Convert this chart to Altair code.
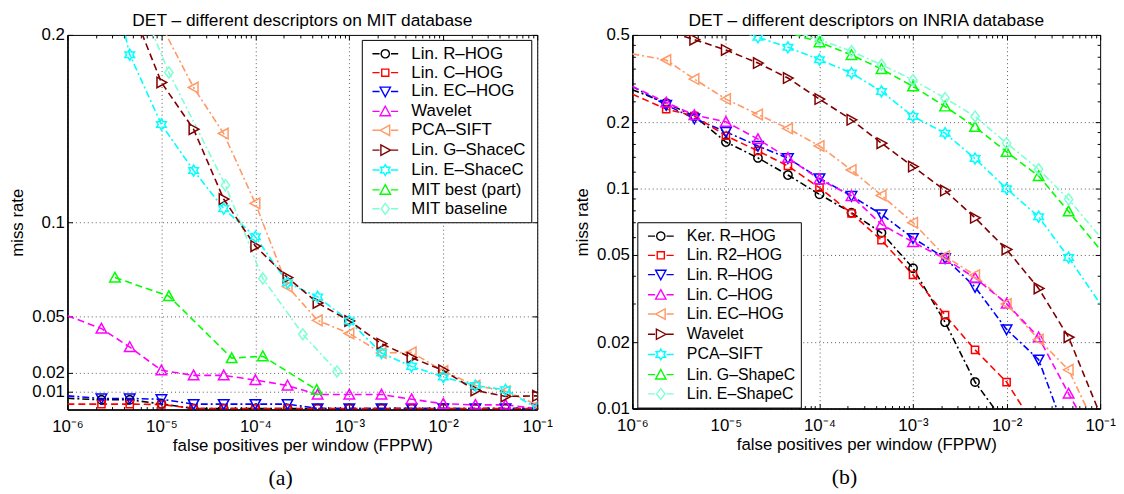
import math
import altair as alt
import pandas as pd

FONT = "Liberation Sans"

# ---------------- axis ticks ----------------
X_TICKS = [1e-6, 1e-5, 1e-4, 1e-3, 1e-2, 1e-1]
X_TICK_LABELS = ["10⁻⁶", "10⁻⁵", "10⁻⁴", "10⁻³", "10⁻²", "10⁻¹"]
X_MINOR = [m * 10.0 ** e for e in range(-6, -1) for m in range(2, 10)]
A_Y_TICKS = [0.01, 0.02, 0.05, 0.1, 0.2]
B_Y_TICKS = [0.01, 0.02, 0.05, 0.1, 0.2, 0.5]
B_Y_MINOR = [0.03, 0.04, 0.06, 0.07, 0.08, 0.09, 0.12, 0.14, 0.16, 0.18, 0.25, 0.3, 0.35, 0.4, 0.45]

# ---------------- panel (a): MIT ----------------
A_NAMES = ["Lin. R–HOG", "Lin. C–HOG", "Lin. EC–HOG", "Wavelet", "PCA–SIFT",
           "Lin. G–ShaceC", "Lin. E–ShaceC", "MIT best (part)", "MIT baseline"]
A_COLORS = ["#000000", "#ff0000", "#0000ff", "#ff00ff", "#ff9966",
            "#800000", "#00ffff", "#00ff00", "#7fffd4"]
A_DASHES = ["dashdot", "dash", "dashdot", "dash", "dashdot", "dash", "dashdot", "dash", "dashdot"]
A_SHAPES = ["circle", "square", "triangle-down", "triangle-up", "triangle-left",
            "triangle-right", "hexagram", "triangle-up", "diamond"]

FPPW = [2.3e-6, 4.6e-6, 1e-5, 2.2e-5, 4.6e-5, 1e-4, 2.2e-4, 4.6e-4, 1e-3,
        2.2e-3, 4.6e-3, 1e-2, 2.2e-2, 4.6e-2, 1e-1]

A_RHOG = [0.0057, 0.0057, 0.0035, 0.0011, 0.0011, 0.0011, 0.0011, 0.0011,
          0.0011, 0.0011, 0.0011, 0.0011, 0.0011, 0.0011, 0.0011]
A_CHOG = [0.0034, 0.0034, 0.0032, 0.0011, 0.0011, 0.0011, 0.0011, 0.0011,
          0.0011, 0.0011, 0.0011, 0.0011, 0.0011, 0.0011, 0.0011]
A_ECHOG = [0.0064, 0.0064, 0.006, 0.0034, 0.0034, 0.0034, 0.0034, 0.0011,
           0.0011, 0.0011, 0.0011, 0.0011, 0.0011, 0.0011, 0.0011]
A_WAVELET = [0.0436, 0.0338, 0.0214, 0.0187, 0.0187, 0.0162, 0.0133, 0.0085,
             0.0085, 0.0085, 0.006, 0.0036, 0.003, 0.003, 0.0011]
A_PCASIFT = [0.172, 0.1475, 0.1103, 0.066, 0.048, 0.041, 0.0306, 0.031,
             0.021, 0.0133, 0.0103, 0.003]
A_GSHAPE = [0.1747, 0.1498, 0.1126, 0.0875, 0.0708, 0.0573, 0.0477, 0.0356,
            0.0281, 0.0214, 0.0107, 0.0075, 0.0078]
A_ESHAPE = [0.1895, 0.1523, 0.1278, 0.1075, 0.0925, 0.068, 0.0605, 0.0477,
            0.0306, 0.0235, 0.0178, 0.0133, 0.011, 0.0011]
A_MITBEST_X = [3.2e-6, 1.2e-5, 5.6e-5, 1.2e-4, 4.5e-4]
A_MITBEST = [0.0708, 0.0609, 0.0279, 0.0289, 0.011]
A_MITBASE_X = [1.2e-5, 4.8e-5, 1.2e-4, 3.2e-4, 7.4e-4]
A_MITBASE = [0.18, 0.12, 0.0703, 0.0406, 0.0208]

A_SERIES = {
    "Lin. R–HOG": (FPPW, A_RHOG),
    "Lin. C–HOG": (FPPW, A_CHOG),
    "Lin. EC–HOG": (FPPW, A_ECHOG),
    "Wavelet": (FPPW, A_WAVELET),
    "PCA–SIFT": (FPPW[3:], A_PCASIFT),
    "Lin. G–ShaceC": (FPPW[2:], A_GSHAPE),
    "Lin. E–ShaceC": (FPPW[1:], A_ESHAPE),
    "MIT best (part)": (A_MITBEST_X, A_MITBEST),
    "MIT baseline": (A_MITBASE_X, A_MITBASE),
}
# curve points outside the marker positions (where the curves enter the plot)
A_EXTRA = {
    "Lin. R–HOG": [(1e-6, 0.0065)],
    "Lin. C–HOG": [(1e-6, 0.0034)],
    "Lin. EC–HOG": [(1e-6, 0.0078)],
    "Wavelet": [(1e-6, 0.0505)],
    "PCA–SIFT": [(1e-5, 0.205)],
    "Lin. G–ShaceC": [(4.6e-6, 0.217)],
    "Lin. E–ShaceC": [(3.5e-6, 0.215)],
    "MIT baseline": [(6.8e-6, 0.21)],
}

# ---------------- panel (b): INRIA ----------------
B_NAMES = ["Ker. R–HOG", "Lin. R2–HOG", "Lin. R–HOG", "Lin. C–HOG", "Lin. EC–HOG",
           "Wavelet", "PCA–SIFT", "Lin. G–ShapeC", "Lin. E–ShapeC"]
B_COLORS = ["#000000", "#ff0000", "#0000ff", "#ff00ff", "#ff9966",
            "#800000", "#00ffff", "#00ff00", "#7fffd4"]
B_DASHES = ["dashdot", "dash", "dashdot", "dash", "dashdot", "dash", "dashdot", "dash", "dashdot"]
B_SHAPES = ["circle", "square", "triangle-down", "triangle-up", "triangle-left",
            "triangle-right", "hexagram", "triangle-up", "diamond"]

B_KERRHOG = [0.245, 0.214, 0.163, 0.138, 0.1154, 0.0942, 0.0777, 0.063, 0.0435, 0.0247, 0.0132]
B_R2HOG = [0.230, 0.214, 0.174, 0.1485, 0.1268, 0.101, 0.0772, 0.0583, 0.0405, 0.0266, 0.0185, 0.0132]
B_RHOG = [0.240, 0.2085, 0.1812, 0.1564, 0.1375, 0.1114, 0.0926, 0.0764, 0.0596, 0.0483,
          0.0357, 0.0229, 0.0167]
B_CHOG = [0.2466, 0.216, 0.2014, 0.168, 0.138, 0.1103, 0.0926, 0.0688, 0.0571, 0.048,
          0.0393, 0.030, 0.0211, 0.0117]
B_ECHOG = [0.3846, 0.315, 0.2554, 0.2175, 0.1877, 0.1564, 0.1216, 0.0932, 0.070, 0.0493,
           0.0404, 0.0299, 0.0206, 0.015]
B_WAVELET = [0.476, 0.4272, 0.3726, 0.3184, 0.2554, 0.2056, 0.161, 0.126, 0.098, 0.0737,
             0.0529, 0.0352, 0.0211]
B_PCASIFT = [0.488, 0.4393, 0.386, 0.3355, 0.2768, 0.213, 0.1788, 0.137, 0.1, 0.0745, 0.0486]
B_GSHAPE = [0.463, 0.4053, 0.35, 0.2917, 0.2365, 0.191, 0.1469, 0.1142, 0.0788]
B_ESHAPE = [0.476, 0.4213, 0.366, 0.312, 0.258, 0.213, 0.161, 0.1225, 0.0894]

B_SERIES = {
    "Ker. R–HOG": (FPPW[:11], B_KERRHOG),
    "Lin. R2–HOG": (FPPW[:12], B_R2HOG),
    "Lin. R–HOG": (FPPW[:13], B_RHOG),
    "Lin. C–HOG": (FPPW[:14], B_CHOG),
    "Lin. EC–HOG": (FPPW[:14], B_ECHOG),
    "Wavelet": (FPPW[1:14], B_WAVELET),
    "PCA–SIFT": (FPPW[3:14], B_PCASIFT),
    "Lin. G–ShapeC": (FPPW[5:14], B_GSHAPE),
    "Lin. E–ShapeC": (FPPW[5:14], B_ESHAPE),
}
B_EXTRA = {
    "Ker. R–HOG": [(1e-6, 0.282), (1e-2, 0.0084)],
    "Lin. R2–HOG": [(1e-6, 0.269), (2.2e-2, 0.0078)],
    "Lin. R–HOG": [(1e-6, 0.2917), (4.6e-2, 0.0071)],
    "Lin. C–HOG": [(1e-6, 0.2917), (6.3e-2, 0.0092)],
    "Lin. EC–HOG": [(1e-6, 0.41), (9e-2, 0.0082)],
    "Wavelet": [(2.15e-6, 0.528), (1e-1, 0.0094)],
    "PCA–SIFT": [(1.6e-5, 0.51), (1e-1, 0.030)],
    "Lin. G–ShapeC": [(3.2e-5, 0.54), (1e-1, 0.0529)],
    "Lin. E–ShapeC": [(3.2e-5, 0.55), (1e-1, 0.0604)],
}

# ---------------- styles ----------------
DASH = {"dash": [7, 4], "dashdot": [7, 3, 2, 3]}
_r3 = 1 / math.sqrt(3)
SHAPE_PTS = {
    "circle": [(0.75 * math.cos(2 * math.pi * i / 24), 0.75 * math.sin(2 * math.pi * i / 24)) for i in range(24)],
    "square": [(-0.65, -0.65), (0.65, -0.65), (0.65, 0.65), (-0.65, 0.65)],
    "triangle-up": [(0, -0.95), (0.95, 0.8), (-0.95, 0.8)],
    "triangle-down": [(0, 0.95), (0.95, -0.8), (-0.95, -0.8)],
    "triangle-left": [(-0.95, 0), (0.8, -0.95), (0.8, 0.95)],
    "triangle-right": [(0.95, 0), (-0.8, -0.95), (-0.8, 0.95)],
    "hexagram": [((1.0 if i % 2 == 0 else _r3) * math.cos(math.radians(-90 + 30 * i)),
                  (1.0 if i % 2 == 0 else _r3) * math.sin(math.radians(-90 + 30 * i))) for i in range(12)],
    "diamond": [(0, -1.0), (0.75, 0), (0, 1.0), (-0.75, 0)],
}
MARK_SIZE = 125
LEG_SIZE = 256
LF = 0.69
LC = 1.21
LABEL_FS = 17


def poly(pts):
    return "M" + "L".join(f"{x:.3f},{y:.3f}" for x, y in pts) + "Z"


def marker_path(shape):
    return poly(SHAPE_PTS[shape])


def legend_path(shape):
    g = 0.72
    stub = f"M-0.41,0L{LC - g:.3f},0M{LC + g:.3f},0L2.84,0"
    return stub + poly([(LC + x * LF, y * LF) for x, y in SHAPE_PTS[shape]])


XLABEL_EXPR = "[" + ",".join(f"'{t}'" for t in X_TICK_LABELS) + "][round(log(datum.value)/LN10)+6]"
GRID = dict(grid=True, gridColor="#333333", gridDash=[1, 3], gridWidth=0.9, gridOpacity=0.9)


def tick_axis(orient, values, size):
    return alt.Axis(orient=orient, values=values, labels=False, domain=False, grid=False,
                    ticks=True, tickSize=size, tickColor="black", tickWidth=1,
                    offset=-size, title=None)


def build_panel(names, colors, dashes, shapes, series, extra, yscale, yticks, yminor,
                title, lx, ly, w, h, leg_fs, leg_rp):
    line_rows, mk_rows = [], []
    for i, n in enumerate(names):
        xs, ys = series[n]
        for x, y in zip(xs, ys):
            line_rows.append({"s": n, "x": x, "y": y})
            mk_rows.append({"s": n, "x": x, "y": y, "shape": marker_path(shapes[i])})
        for x, y in extra.get(n, []):
            line_rows.append({"s": n, "x": x, "y": y})
    line_df = pd.DataFrame(line_rows)
    mk_df = pd.DataFrame(mk_rows)

    xscale = alt.Scale(type="log", domain=[1e-6, 1e-1], nice=False)
    cscale = alt.Scale(domain=names, range=colors)

    x_main = alt.X("x:Q", scale=xscale, axis=alt.Axis(
        values=X_TICKS, labelExpr=XLABEL_EXPR, ticks=False, domainColor="black",
        domainWidth=1.5, labelPadding=9, labelFlush=False, labelOverlap=False,
        title="false positives per window (FPPW)", titlePadding=3, **GRID))
    y_main = alt.Y("y:Q", scale=yscale, axis=alt.Axis(
        values=yticks, format=".2~f", ticks=False, domainColor="black", domainWidth=1.5,
        labelPadding=3, labelFlush=False, labelOverlap=False, title="miss rate",
        titlePadding=5, **GRID))

    x_none = alt.X("x:Q", scale=xscale, axis=None)
    y_none = alt.Y("y:Q", scale=yscale, axis=None)

    leg = alt.Legend(title=None, orient="none", legendX=lx, legendY=ly, padding=5,
                     rowPadding=leg_rp, labelOffset=27, strokeColor="black", fillColor="white",
                     symbolSize=LEG_SIZE, symbolStrokeWidth=1.4, labelFont=FONT,
                     labelFontSize=leg_fs, labelColor="black", labelLimit=300)
    legend_layer = alt.Chart(mk_df).transform_filter("false").mark_point(
        filled=False, size=LEG_SIZE, strokeWidth=1.4, opacity=1).encode(
        x=x_none, y=y_none,
        color=alt.Color("s:N", scale=cscale, legend=leg),
        shape=alt.Shape("s:N", scale=alt.Scale(domain=names, range=[legend_path(s) for s in shapes]),
                        legend=leg),
    )

    dash_names = [n for n, d in zip(names, dashes) if d == "dash"]
    dd_names = [n for n, d in zip(names, dashes) if d == "dashdot"]
    base_line = alt.Chart(line_df)
    lines_dd = base_line.transform_filter(alt.FieldOneOfPredicate(field="s", oneOf=dd_names)).mark_line(
        clip=True, strokeWidth=1.6, strokeDash=DASH["dashdot"]).encode(
        x=x_main, y=y_main, color=alt.Color("s:N", scale=cscale, legend=None),
        order=alt.Order("x:Q"))
    lines_d = base_line.transform_filter(alt.FieldOneOfPredicate(field="s", oneOf=dash_names)).mark_line(
        clip=True, strokeWidth=1.6, strokeDash=DASH["dash"]).encode(
        x=x_none, y=y_none, color=alt.Color("s:N", scale=cscale, legend=None),
        order=alt.Order("x:Q"))
    pts = alt.Chart(mk_df).mark_point(clip=True, filled=False, size=MARK_SIZE, strokeWidth=1.5,
                                      opacity=1).encode(
        x=x_none, y=y_none,
        color=alt.Color("s:N", scale=cscale, legend=None),
        shape=alt.Shape("shape:N", scale=None),
    )
    empty = alt.Chart(mk_df).transform_filter("false").mark_point(opacity=0)
    t1 = empty.encode(x=alt.X("x:Q", scale=xscale, axis=tick_axis("bottom", X_TICKS, 5)),
                      y=alt.Y("y:Q", scale=yscale, axis=tick_axis("left", yticks, 5)))
    t2 = empty.encode(x=alt.X("x:Q", scale=xscale, axis=tick_axis("top", X_TICKS, 5)),
                      y=alt.Y("y:Q", scale=yscale, axis=tick_axis("right", yticks, 5)))
    t3 = empty.encode(x=alt.X("x:Q", scale=xscale, axis=tick_axis("bottom", X_MINOR, 3)),
                      y=alt.Y("y:Q", scale=yscale,
                              axis=tick_axis("left", yminor, 3) if yminor else None))
    t4 = empty.encode(x=alt.X("x:Q", scale=xscale, axis=tick_axis("top", X_MINOR, 3)),
                      y=alt.Y("y:Q", scale=yscale,
                              axis=tick_axis("right", yminor, 3) if yminor else None))

    return alt.layer(legend_layer, lines_dd, lines_d, pts, t1, t2, t3, t4).resolve_axis(
        x="independent", y="independent").properties(
        width=w, height=h,
        title=alt.Title(title, font=FONT, fontSize=17.5, fontWeight="normal", color="black",
                        frame="group", anchor="middle", offset=-3))


panel_a = build_panel(A_NAMES, A_COLORS, A_DASHES, A_SHAPES, A_SERIES, A_EXTRA,
                      alt.Scale(type="linear", domain=[0.0005, 0.2], nice=False, zero=False),
                      A_Y_TICKS, [], "DET – different descriptors on MIT database",
                      297, 5, 474, 378, 17, 2.05)
panel_b = build_panel(B_NAMES, B_COLORS, B_DASHES, B_SHAPES, B_SERIES, B_EXTRA,
                      alt.Scale(type="log", domain=[0.01, 0.5], nice=False),
                      B_Y_TICKS, B_Y_MINOR, "DET – different descriptors on INRIA database",
                      5, 189, 472, 377, 16, 2.4)


def caption(text):
    return alt.Title(text, orient="bottom", frame="bounds", anchor="middle",
                     font="Liberation Serif", fontSize=22, fontWeight="normal",
                     color="black", offset=15)


chart = alt.hconcat(
    alt.vconcat(panel_a, title=caption("(a)")),
    alt.vconcat(panel_b, title=caption("(b)")),
    spacing=20,
).resolve_scale(color="independent", shape="independent").properties(
    padding={"left": 0, "top": 1, "right": 0, "bottom": 0}
).configure_axis(
    labelFont=FONT, titleFont=FONT, labelFontSize=LABEL_FS, titleFontSize=LABEL_FS,
    labelColor="black", titleColor="black", titleFontWeight="normal"
).configure_title(
    font=FONT, fontSize=17.5, fontWeight="normal", color="black"
).configure_view(stroke="black", strokeWidth=1)

chart.save("out.html", embed_options={"renderer": "svg", "actions": False})
